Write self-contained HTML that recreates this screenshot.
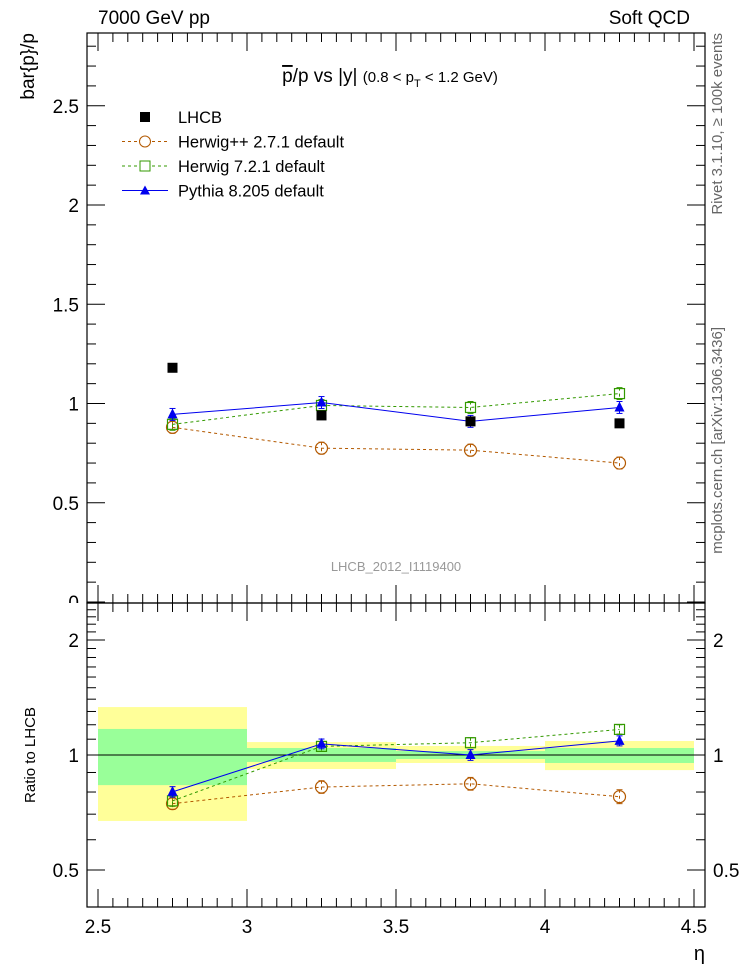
<!DOCTYPE html>
<html><head><meta charset="utf-8"><style>
body{margin:0;background:#fff;}
svg text{font-family:"Liberation Sans",sans-serif;}
</style></head><body>
<svg id="c" width="746" height="972" xmlns="http://www.w3.org/2000/svg"></svg>
<script>
const binEdges=[2.5,3.0,3.5,4.0,4.5];
const xVals=[2.75,3.25,3.75,4.25];
const lhcb=[1.18,0.94,0.91,0.90];
const herwigpp=[0.88,0.775,0.765,0.70];
const herwig7=[0.895,0.99,0.98,1.05];
const pythia=[0.945,1.005,0.91,0.98];
const mcErr=[0.03,0.03,0.03,0.03];
const statUp=[1.17,1.043,1.024,1.043];
const statDn=[0.834,0.959,0.976,0.953];
const totUp=[1.335,1.081,1.056,1.088];
const totDn=[0.672,0.919,0.953,0.913];
const mainTicks=[0,0.5,1,1.5,2,2.5];
const mainTickLabels=["0","0.5","1","1.5","2","2.5"];
const ratioTicks=[0.5,1,2];
const ratioTickLabels=["0.5","1","2"];
const xTicks=[2.5,3,3.5,4,4.5];
const xTickLabels=["2.5","3","3.5","4","4.5"];

const NS="http://www.w3.org/2000/svg";
const svg=document.getElementById('c');
const L=87,R=705,T=33,MB=603,RB=907;
const X=v=>98+(v-2.5)*298;
const Y=v=>602-v*198.5;
const YR=v=>755-Math.log2(v)*115;
function el(tag,attrs,parent){const e=document.createElementNS(NS,tag);for(const k in attrs)e.setAttribute(k,attrs[k]);(parent||svg).appendChild(e);return e;}
function txt(s,attrs,parent){const e=el('text',attrs,parent);e.textContent=s;return e;}

const defs=el('defs',{});
const cp=el('clipPath',{id:'mainclip'},defs);
el('rect',{x:0,y:0,width:746,height:MB},cp);

const bands=el('g',{});


for(let i=0;i<xVals.length;i++){
  const x0=X(binEdges[i]),x1=X(binEdges[i+1]);
  const y=el('rect',{x:x0,y:YR(totUp[i]),width:x1-x0,height:YR(totDn[i])-YR(totUp[i]),fill:'#ffff99'},bands);
  
  
  const g=el('rect',{x:x0,y:YR(statUp[i]),width:x1-x0,height:YR(statDn[i])-YR(statUp[i]),fill:'#99ff99'},bands);
  
  
}
const one=el('line',{x1:L,x2:R,y1:YR(1),y2:YR(1),stroke:'#000','stroke-width':1});



const f1=el('rect',{x:L,y:T,width:R-L,height:MB-T,fill:'none',stroke:'#000','stroke-width':1.2});


const f2=el('rect',{x:L,y:MB,width:R-L,height:RB-MB,fill:'none',stroke:'#000','stroke-width':1.2});



const ax=el('g',{stroke:'#000','stroke-width':1});


for(let v=0;v<=2.85;v+=0.1){const y=Y(v);if(y<T)break;const big=Math.abs(v*2-Math.round(v*2))<1e-6;const w=big?18:9;
 el('line',{x1:L,x2:L+w,y1:y,y2:y},ax);el('line',{x1:R,x2:R-w,y1:y,y2:y},ax);}
mainTicks.forEach((v,i)=>{const t=txt(mainTickLabels[i],{x:L-8,y:Y(v)+7,'text-anchor':'end','font-size':19,'clip-path':'url(#mainclip)'});});
const rt=[0.4,0.5,0.6,0.7,0.8,0.9,1,1.1,1.2,1.3,1.4,1.5,1.6,1.7,1.8,1.9,2,2.1,2.2,2.3,2.4,2.5];
rt.forEach(v=>{const y=YR(v);if(y<MB||y>RB)return;const big=[0.5,1,2].includes(v);const w=big?18:9;
 el('line',{x1:L,x2:L+w,y1:y,y2:y},ax);el('line',{x1:R,x2:R-w,y1:y,y2:y},ax);});
ratioTicks.forEach((v,i)=>{
 const a=txt(ratioTickLabels[i],{x:L-8,y:YR(v)+7,'text-anchor':'end','font-size':19});
 const b=txt(ratioTickLabels[i],{x:R+8,y:YR(v)+7,'font-size':19});});
for(let v=2.5;v<=4.541;v+=0.05){const x=X(v);if(x>R)break;const big=Math.abs(v*2-Math.round(v*2))<1e-6;const w=big?18:9;
 [MB,RB].forEach(yb=>el('line',{x1:x,x2:x,y1:yb,y2:yb-w},ax));
 [T,MB].forEach(yt=>el('line',{x1:x,x2:x,y1:yt,y2:yt+w},ax));}
xTicks.forEach((v,i)=>{const t=txt(xTickLabels[i],{x:X(v),y:933,'text-anchor':'middle','font-size':19});});

function drawSeries(name,vals,color,dash,marker,ratio){
 const g=el('g',{});
 
 
 const yf=ratio?(v,i)=>YR(v/lhcb[i]):(v,i)=>Y(v);
 if(dash!==null){const pts=xVals.map((x,i)=>X(x)+','+yf(vals[i],i)).join(' ');
  el('polyline',{points:pts,fill:'none',stroke:color,'stroke-width':1,'stroke-dasharray':dash||'none'},g);}
 xVals.forEach((x,i)=>{const cx=X(x),cy=yf(vals[i],i);
  if(marker!=='sq-fill'){const e=ratio?Math.abs(YR((vals[i]+mcErr[i])/lhcb[i])-cy):mcErr[i]*198.5;
   el('line',{x1:cx,x2:cx,y1:cy-e,y2:cy+e,stroke:color,'stroke-dasharray':dash||'none'},g);
   el('line',{x1:cx-3,x2:cx+3,y1:cy-e,y2:cy-e,stroke:color},g);el('line',{x1:cx-3,x2:cx+3,y1:cy+e,y2:cy+e,stroke:color},g);}
  let m;
  if(marker==='sq-fill')m=el('rect',{x:cx-5,y:cy-5,width:10,height:10,fill:'#000'},g);
  else if(marker==='circ')m=el('circle',{cx:cx,cy:cy,r:6,fill:'none',stroke:color,'stroke-width':1.2},g);
  else if(marker==='sq')m=el('rect',{x:cx-5,y:cy-5,width:10,height:10,fill:'none',stroke:color,'stroke-width':1.2},g);
  else m=el('polygon',{points:`${cx},${cy-6} ${cx-5},${cy+4} ${cx+5},${cy+4}`,fill:color},g);
  
  
 });
}
drawSeries('herwigpp',herwigpp,'#b35900','3,3','circ',false);
drawSeries('herwig7',herwig7,'#339900','3,3','sq',false);
drawSeries('pythia',pythia,'#0000ee','','tri',false);
drawSeries('lhcb',lhcb,'#000',null,'sq-fill',false);
drawSeries('herwigpp',herwigpp,'#b35900','3,3','circ',true);
drawSeries('herwig7',herwig7,'#339900','3,3','sq',true);
drawSeries('pythia',pythia,'#0000ee','','tri',true);

const lg=el('g',{});


const le=[['LHCB','#000',null,'sqf'],['Herwig++ 2.7.1 default','#b35900','3,3','circ'],['Herwig 7.2.1 default','#339900','3,3','sq'],['Pythia 8.205 default','#0000ee','','tri']];
le.forEach((e,i)=>{const y=117+i*24.5,cx=145;const g=el('g',{},lg);
 
 
 if(e[2]!==null)el('line',{x1:122,x2:168,y1:y,y2:y,stroke:e[1],'stroke-dasharray':e[2]||'none'},g);
 if(e[3]==='sqf')el('rect',{x:cx-5,y:y-5,width:10,height:10,fill:'#000'},g);
 else if(e[3]==='circ')el('circle',{cx:cx,cy:y,r:5.5,fill:'#fff',stroke:e[1]},g);
 else if(e[3]==='sq')el('rect',{x:cx-5,y:y-5,width:10,height:10,fill:'#fff',stroke:e[1]},g);
 else el('polygon',{points:`${cx},${y-5} ${cx-5},${y+4} ${cx+5},${y+4}`,fill:e[1]},g);
 txt(e[0],{x:178,y:y+6,'font-size':16.5},g);});

const lab=(s,a,n)=>{const t=txt(s,a);return t;};
lab('7000 GeV pp',{x:98,y:24,'font-size':19},'energy-label');
lab('Soft QCD',{x:690,y:24,'font-size':19,'text-anchor':'end'},'category-label');
const tt=lab('',{x:390,y:82,'font-size':19,'text-anchor':'middle'},'plot-title');
tt.innerHTML='<tspan text-decoration="overline">p</tspan>/p vs |y| <tspan font-size="15">(0.8 &lt; p</tspan><tspan font-size="11" dy="5">T</tspan><tspan font-size="15" dy="-5"> &lt; 1.2 GeV)</tspan>';
lab('bar{p}/p',{x:0,y:0,'font-size':19,'text-anchor':'end',transform:'translate(34,33) rotate(-90)'},'y-axis-title');
lab('Ratio to LHCB',{x:0,y:0,'font-size':15,'text-anchor':'middle',transform:'translate(35,755) rotate(-90)'},'ratio-axis-title');
lab('η',{x:705,y:960,'font-size':20,'text-anchor':'end'},'x-axis-title');
lab('LHCB_2012_I1119400',{x:396,y:571,'font-size':13,fill:'#999','text-anchor':'middle'},'analysis-id');
lab('Rivet 3.1.10, ≥ 100k events',{x:0,y:0,'font-size':15,fill:'#666','text-anchor':'end',transform:'translate(722,33) rotate(-90)'},'rivet-version-label');
lab('mcplots.cern.ch [arXiv:1306.3436]',{x:0,y:0,'font-size':15,fill:'#666','text-anchor':'end',transform:'translate(722,327) rotate(-90)'},'mcplots-label');
</script>
</body></html>
